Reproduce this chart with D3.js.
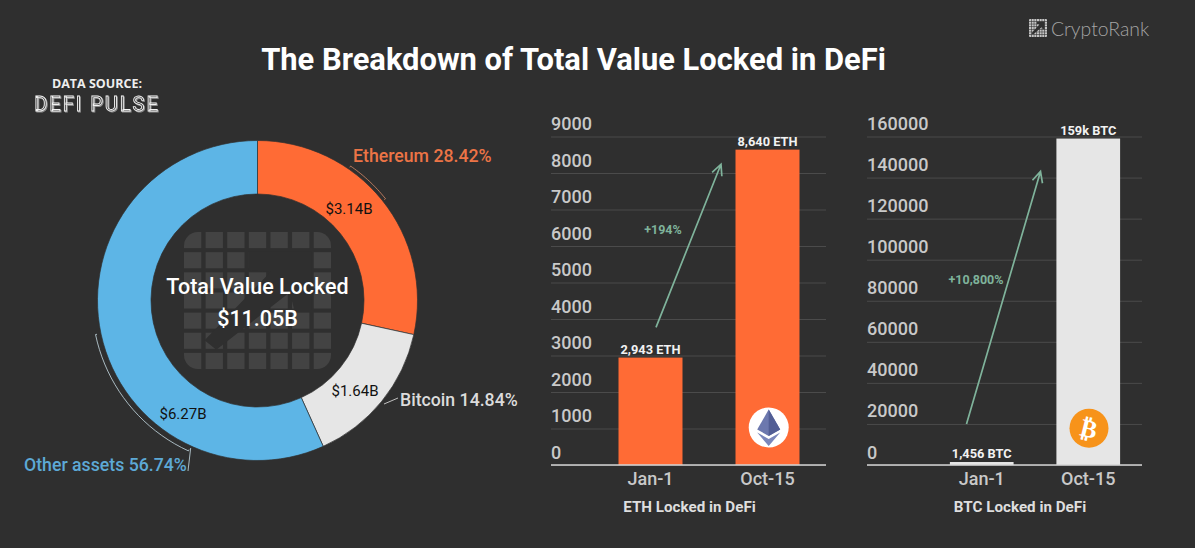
<!DOCTYPE html>
<html>
<head>
<meta charset="utf-8">
<script src="https://cdn.jsdelivr.net/npm/d3@7"></script>
<style>
  html, body { margin: 0; padding: 0; background: #2f2f2f; }
  svg { display: block; font-family: Roboto, sans-serif; }
</style>
</head>
<body>
<div id="viz-container"></div>
<script>
// data
let assetNames = ["Ethereum", "Bitcoin", "Other assets"];
let assetShares = [28.42, 14.84, 56.74];
let assetValues = ["$3.14B", "$1.64B", "$6.27B"];
let assetColors = ["#ff6b35", "#e6e6e6", "#5db5e6"];

let dates = ["Jan-1", "Oct-15"];
let ethLocked = [2943, 8640];
let ethLabels = ["2,943 ETH", "8,640 ETH"];
let ethTicks = [0, 1000, 2000, 3000, 4000, 5000, 6000, 7000, 8000, 9000];
let btcLocked = [1456, 159000];
let btcLabels = ["1,456 BTC", "159k BTC"];
let btcTicks = [0, 20000, 40000, 60000, 80000, 100000, 120000, 140000, 160000];

let bg = "#2f2f2f";
let green = "#7fb39b";

let viz = d3.select("#viz-container")
    .append("svg")
    .attr("width", 1195)
    .attr("height", 548)
    .style("background-color", bg);

// header
viz.append("text").text("The Breakdown of Total Value Locked in DeFi")
    .attr("x", 573.5).attr("y", 70).attr("text-anchor", "middle")
    .attr("font-size", 30.9).attr("font-weight", 700).attr("fill", "#fff");

viz.append("text").text("DATA SOURCE:")
    .attr("x", 97).attr("y", 88).attr("text-anchor", "middle")
    .attr("font-family", "Open Sans").attr("font-size", 12.5).attr("font-weight", 700).attr("fill", "#eee");

// the double edge of the logo text
viz.append("text").text("DEFI PULSE")
    .attr("x", 97).attr("y", 110.5).attr("text-anchor", "middle")
    .attr("font-family", "Roboto").attr("font-size", 20).attr("letter-spacing", 2)
    .attr("fill", bg).attr("stroke", "#f2f2f2").attr("stroke-width", 0.9)
    .style("filter", "drop-shadow(1px 1px 0 #8a8a8a)");

// grid logo with the arrow cut out, also used as the donut watermark
function gridLogo(parent, id, x, y, w, h, n, color, corner) {
    let g = parent.append("g").attr("transform", "translate(" + x + "," + y + ")");
    g.append("clipPath").attr("id", id).append("rect")
        .attr("width", w).attr("height", h).attr("rx", corner);
    let cellsG = g.append("g").attr("clip-path", "url(#" + id + ")");
    let px = d3.scaleBand().domain(d3.range(n)).range([0, w]).paddingInner(0.2);
    let py = d3.scaleBand().domain(d3.range(n)).range([0, h]).paddingInner(0.2);
    cellsG.selectAll("rect").data(d3.cross(d3.range(n), d3.range(n))).enter().append("rect")
        .attr("x", d => px(d[0]))
        .attr("y", d => py(d[1]))
        .attr("width", px.bandwidth())
        .attr("height", py.bandwidth())
        .attr("fill", color);
    let shape = [[0.44, 0.14], [0.87, 0.14], [0.87, 0.57], [0.75, 0.57], [0.72, 0.44],
                 [0.22, 0.86], [0.14, 0.79], [0.59, 0.29], [0.44, 0.28]];
    g.append("path")
        .attr("d", d3.line().x(d => d[0] * w).y(d => d[1] * h)(shape) + "Z")
        .attr("fill", bg);
}

gridLogo(viz, "logoClip", 1029, 19, 18, 18, 7, "#c4c4c4", 1);
viz.append("text").text("CryptoRank")
    .attr("x", 1051).attr("y", 36)
    .attr("font-family", "Lato").attr("font-weight", 300).attr("font-size", 19.4).attr("fill", "#a5a5a5");

// donut
let cx = 257.5, cy = 300.5;
let outerR = 160, innerR = 106.5;
let donut = viz.append("g").attr("transform", "translate(" + cx + "," + cy + ")");

gridLogo(viz, "markClip", 184, 232, 147, 137, 7, "#434343", 14);

let pie = d3.pie().sort(null)(assetShares);
let arc = d3.arc().innerRadius(innerR).outerRadius(outerR);

donut.selectAll(".slice").data(pie).enter().append("path")
    .attr("class", "slice")
    .attr("d", arc)
    .attr("fill", (d, i) => assetColors[i])
    .attr("stroke", bg)
    .attr("stroke-width", 0.7);

// thin brackets along the ring, with inward ends
function bracket(r, a0, a1, color, tick) {
    let pts = [[a0, r - tick]].concat(d3.range(0, 21).map(i => [a0 + (a1 - a0) * i / 20, r + 1.5]));
    pts.push([a1, r - tick]);
    donut.append("path")
        .attr("d", d3.lineRadial()(pts))
        .attr("fill", "none").attr("stroke", color).attr("stroke-width", 0.8);
}
bracket(162, 0.606, 0.899, "#d98a66", 0);
bracket(164, 3.572, 4.505, "#c8dde6", 0);

viz.append("path").attr("d", "M188 471 L190.7 448").attr("fill", "none").attr("stroke", "#c8dde6").attr("stroke-width", 0.8);
viz.append("path").attr("d", "M384 404 L398 398").attr("fill", "none").attr("stroke", "#e6e6e6").attr("stroke-width", 0.8);

let valueSpots = [[349, 214], [355, 396], [183, 419]];
viz.selectAll(".val").data(assetValues).enter().append("text")
    .attr("class", "val")
    .text(d => d)
    .attr("x", (d, i) => valueSpots[i][0])
    .attr("y", (d, i) => valueSpots[i][1])
    .attr("text-anchor", "middle").attr("font-size", 15).attr("fill", "#111");

let labelSpots = [[353, 162], [400, 406], [24, 471]];
let labelColors = ["#ec7446", "#dcdcdc", "#5da9d6"];
viz.selectAll(".lab").data(assetNames).enter().append("text")
    .attr("class", "lab")
    .text((d, i) => d + " " + assetShares[i].toFixed(2) + "%")
    .attr("x", (d, i) => labelSpots[i][0])
    .attr("y", (d, i) => labelSpots[i][1])
    .attr("font-size", 17.7).attr("font-weight", 500)
    .attr("fill", (d, i) => labelColors[i]);

viz.append("text").text("Total Value Locked")
    .attr("x", cx).attr("y", 294).attr("text-anchor", "middle")
    .attr("font-size", 21.5).attr("font-weight", 500).attr("fill", "#fff");
viz.append("text").text("$11.05B")
    .attr("x", cx).attr("y", 326).attr("text-anchor", "middle")
    .attr("font-size", 21.5).attr("font-weight", 500).attr("fill", "#fff");

// one bar panel
function barPanel(o) {
    let x = d3.scaleBand().domain(dates).range(o.xRange)
        .paddingInner(o.inner).paddingOuter(o.outer);
    let y = d3.scaleLinear().domain([0, o.ticks[o.ticks.length - 1]]).range([465, o.top]);
    let left = o.left, right = o.xRange[1];

    let yAxis = viz.append("g")
        .attr("transform", "translate(" + right + ",0)")
        .call(d3.axisLeft(y).tickValues(o.ticks).tickFormat(d3.format("d")).tickSize(right - left));
    yAxis.select(".domain").remove();
    yAxis.selectAll(".tick line").attr("stroke", "#4b4b4b");
    yAxis.selectAll(".tick text")
        .attr("x", left - right).attr("dy", -7).attr("text-anchor", "start")
        .attr("font-family", "Roboto").attr("font-size", 18).attr("font-weight", 500).attr("fill", "#c9c9c9");

    viz.selectAll(".bar" + o.name).data(o.values).enter().append("rect")
        .attr("class", "bar" + o.name)
        .attr("x", (d, i) => x(dates[i]))
        .attr("y", d => y(d))
        .attr("width", x.bandwidth())
        .attr("height", d => y(0) - y(d))
        .attr("fill", o.color);

    viz.selectAll(".barlab" + o.name).data(o.labels).enter().append("text")
        .attr("class", "barlab" + o.name)
        .text(d => d)
        .attr("x", (d, i) => x(dates[i]) + x.bandwidth() / 2)
        .attr("y", (d, i) => y(o.values[i]) - 4)
        .attr("text-anchor", "middle")
        .attr("font-size", 12.8).attr("font-weight", 700).attr("fill", "#f2f2f2");

    let xAxis = viz.append("g")
        .attr("transform", "translate(0,465)")
        .call(d3.axisBottom(x).tickSize(0).tickPadding(7));
    xAxis.select(".domain").attr("d", "M" + left + " 0 H" + right).attr("stroke", "#d4d4d4").attr("stroke-width", 1.6);
    xAxis.selectAll("text")
        .attr("font-family", "Roboto").attr("font-size", 18).attr("font-weight", 500).attr("fill", "#c9c9c9");

    viz.append("text").text(o.title)
        .attr("x", o.titleX).attr("y", 512).attr("text-anchor", "middle")
        .attr("font-size", 15.2).attr("font-weight", 700).attr("fill", "#dedede");

    // growth arrow
    let x0 = o.arrow[0], y0 = y(o.arrow[1]), x1 = o.arrow[2], y1 = y(o.arrow[3]);
    let ang = Math.atan2(y1 - y0, x1 - x0);
    let head = a => [x1 - 12 * Math.cos(ang + a), y1 - 12 * Math.sin(ang + a)];
    viz.append("path")
        .attr("d", "M" + x0 + " " + y0 + " L" + x1 + " " + y1 + " M" + head(0.45) + " L" + x1 + " " + y1 + " L" + head(-0.45))
        .attr("fill", "none").attr("stroke", green).attr("stroke-width", 1.7);
    viz.append("text").text(o.growth)
        .attr("x", o.growthX).attr("y", o.growthY).attr("text-anchor", "middle")
        .attr("font-size", 12.5).attr("font-weight", 700).attr("fill", green);
}

barPanel({
    name: "eth", values: ethLocked, labels: ethLabels, ticks: ethTicks, color: "#ff6b35",
    xRange: [592, 826], inner: 0.453, outer: 0.2265, left: 551, top: 136.5,
    title: "ETH Locked in DeFi", titleX: 689.5,
    arrow: [656, 3770, 721, 8240], growth: "+194%", growthX: 663, growthY: 234
});

barPanel({
    name: "btc", values: btcLocked, labels: btcLabels, ticks: btcTicks, color: "#e6e6e6",
    xRange: [928, 1142], inner: 0.402, outer: 0.2056, left: 867, top: 136.5,
    title: "BTC Locked in DeFi", titleX: 1020,
    arrow: [966.5, 20000, 1040.5, 143000], growth: "+10,800%", growthX: 976, growthY: 284
});

// coin badges
let eth = viz.append("g").attr("transform", "translate(768.7,427.5)");
eth.append("circle").attr("r", 20).attr("fill", "#fff");
eth.append("path").attr("d", "M0 -18 L-11.5 2 L0 8.5 L11.5 2 Z").attr("fill", "#6c78ae");
eth.append("path").attr("d", "M0 -18 L0 8.5 L11.5 2 Z").attr("fill", "#525e95");
eth.append("path").attr("d", "M-11.5 5 L0 18.5 L11.5 5 L0 11.5 Z").attr("fill", "#7a86bb");

let btc = viz.append("g").attr("transform", "translate(1089,428.3)");
btc.append("circle").attr("r", 19.5).attr("fill", "#f7931a");
btc.append("text").text("\u20BF")
    .attr("text-anchor", "middle").attr("y", 9)
    .attr("transform", "rotate(14)")
    .attr("font-family", "DejaVu Sans").attr("font-size", 25).attr("font-weight", 700).attr("fill", "#fff");
</script>
</body>
</html>
